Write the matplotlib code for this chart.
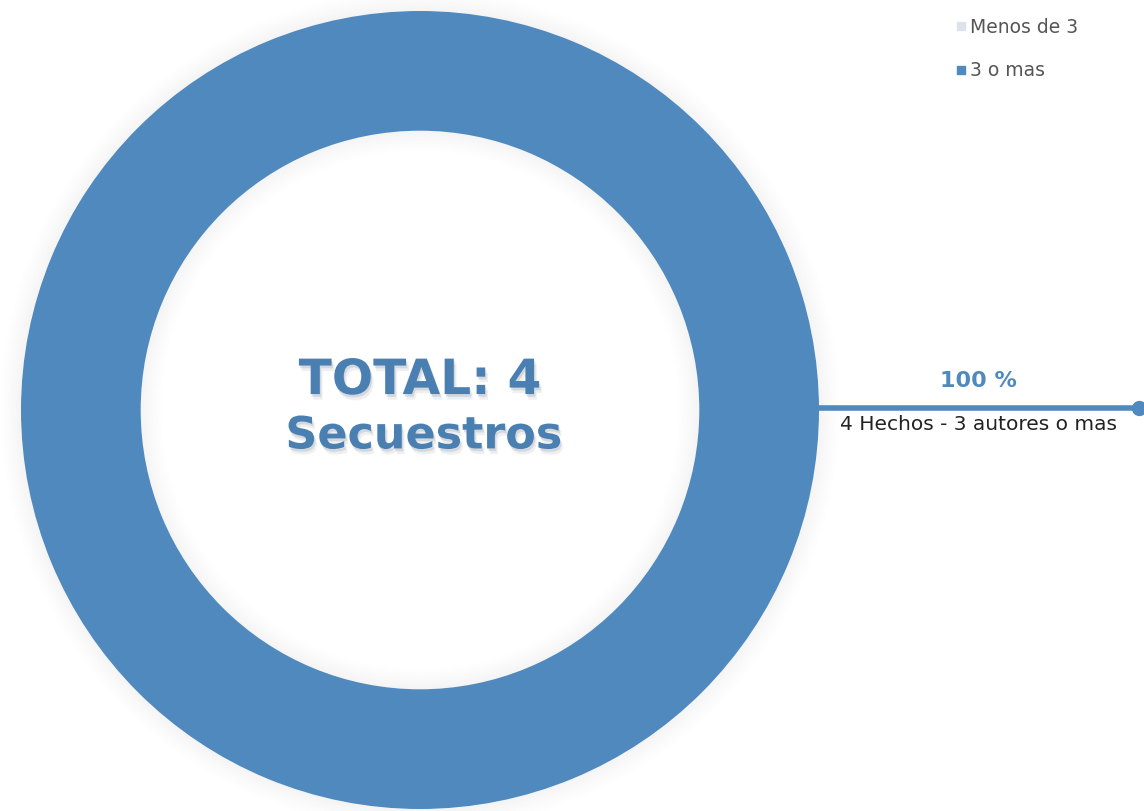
import matplotlib
matplotlib.use('Agg')
import matplotlib.pyplot as plt
import matplotlib.patheffects as pe
from matplotlib.patches import Wedge
from matplotlib.lines import Line2D

# data
categories = ['Menos de 3', '3 o mas']
hechos = [0, 4]
colors = ['#dde3ea', '#4f89be']
total_label = 'TOTAL: 4'
total_sub = 'Secuestros'
pct_label = '100 %'
detail_label = '4 Hechos - 3 autores o mas'

fig = plt.figure(figsize=(11.44, 8.11), dpi=100)
fig.patch.set_facecolor('white')

# donut axes, placed in pixels: centre (420, 410), radius 399
W, H = 1144, 811
ax = fig.add_axes([21 / W, (H - 410 - 399) / H, 798 / W, 798 / H])

# soft glow around the ring
n = 16
for i in range(n):
    a = 0.07 * (1 - i / n) ** 1.5
    ax.add_patch(Wedge((0, 0), 1.0 + (i + 1) * 0.0035, 0, 360, width=0.0035,
                       facecolor='#6f6f6f', edgecolor='none', alpha=a,
                       clip_on=False))
    ax.add_patch(Wedge((0, 0), 0.70 - i * 0.0035, 0, 360, width=0.0035,
                       facecolor='#6f6f6f', edgecolor='none', alpha=a))

wedges, _ = ax.pie(hechos, colors=colors, radius=1.0, startangle=0,
                   wedgeprops=dict(width=0.30, edgecolor='none'))
for w in wedges:
    w.set_clip_on(False)
ax.set_xlim(-1, 1)
ax.set_ylim(-1, 1)
ax.set_aspect('equal')
ax.axis('off')

shadow = [pe.SimplePatchShadow(offset=(1, -2), shadow_rgbFace='#8a96a3', alpha=0.25),
          pe.SimplePatchShadow(offset=(2, -4), shadow_rgbFace='#8a96a3', alpha=0.15),
          pe.Normal()]
ax.text(0, 0.075, total_label, ha='center', va='center', fontsize=35,
        fontweight='bold', color='#4a7fb2', path_effects=shadow)
ax.text(0.01, -0.065, total_sub, ha='center', va='center', fontsize=32,
        fontweight='bold', color='#4a7fb2', path_effects=shadow)

# leader line for the only non-zero slice
x_end = (1139 - 420) / 399
ax.plot([1.0, x_end], [0.005, 0.005], color='#4f89be', lw=4, clip_on=False,
        solid_capstyle='butt')
ax.plot([x_end], [0.005], 'o', color='#4f89be', ms=10, clip_on=False)
ax.text(1.40, 0.072, pct_label, ha='center', va='center', fontsize=16,
        fontweight='bold', color='#4f89be', clip_on=False)
ax.text(1.40, -0.037, detail_label, ha='center', va='center', fontsize=14.5,
        color='#222222', family=['Liberation Sans Narrow', 'DejaVu Sans'],
        clip_on=False)

handles = [Line2D([], [], marker='s', ls='none', color=c, ms=6) for c in colors]
fig.legend(handles, categories, loc='upper left',
           bbox_to_anchor=(938 / W, 1 - 1 / H), frameon=False,
           handlelength=0.6, handletextpad=0.2, labelspacing=1.3,
           prop={'size': 13.5}, labelcolor='#555555')

fig.savefig('out.png', dpi=100, facecolor='white')
